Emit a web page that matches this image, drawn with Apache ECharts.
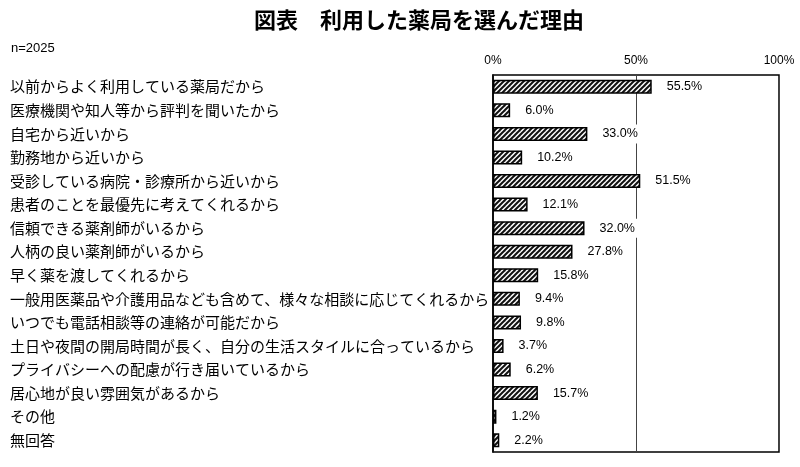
<!DOCTYPE html>
<html><head><meta charset="utf-8">
<script src="https://cdn.jsdelivr.net/npm/echarts@6/dist/echarts.min.js"></script>
<style>html,body{margin:0;padding:0;background:#fff}#c{width:800px;height:467px}</style>
</head><body><div id="c"></div>
<script>
const categories = [
  '以前からよく利用している薬局だから',
  '医療機関や知人等から評判を聞いたから',
  '自宅から近いから',
  '勤務地から近いから',
  '受診している病院・診療所から近いから',
  '患者のことを最優先に考えてくれるから',
  '信頼できる薬剤師がいるから',
  '人柄の良い薬剤師がいるから',
  '早く薬を渡してくれるから',
  '一般用医薬品や介護用品なども含めて、様々な相談に応じてくれるから',
  'いつでも電話相談等の連絡が可能だから',
  '土日や夜間の開局時間が長く、自分の生活スタイルに合っているから',
  'プライバシーへの配慮が行き届いているから',
  '居心地が良い雰囲気があるから',
  'その他',
  '無回答'
];
const values = [55.5, 6.0, 33.0, 10.2, 51.5, 12.1, 32.0, 27.8, 15.8, 9.4, 9.8, 3.7, 6.2, 15.7, 1.2, 2.2];
const xTicks = [0, 50, 100];

const pat = document.createElement('canvas');
pat.width = 5; pat.height = 5;
const g = pat.getContext('2d');
g.fillStyle = '#fff'; g.fillRect(0,0,5,5);
g.strokeStyle = '#111'; g.lineWidth = 2;
[[-5,5,5,-5],[0,5,5,0],[0,10,10,0]].forEach(l=>{g.beginPath();g.moveTo(l[0],l[1]);g.lineTo(l[2],l[3]);g.stroke();});

const chart = echarts.init(document.getElementById('c'));
chart.setOption({
  animation: false,
  title: [
    {text: '図表　利用した薬局を選んだ理由', left: 249, top: 4,
     textStyle: {fontFamily: 'Noto Sans CJK JP', fontSize: 22, fontWeight: 'bold', color: '#000'}},
    {text: 'n=2025', left: 6, top: 37,
     textStyle: {fontFamily: 'Liberation Sans', fontSize: 13, fontWeight: 'normal', color: '#000'}}
  ],
  grid: {left: 493, right: 21, top: 75, bottom: 15, show: true, borderColor: '#000', borderWidth: 1.5, backgroundColor: 'transparent'},
  xAxis: {
    type: 'value', position: 'top', min: xTicks[0], max: xTicks[xTicks.length-1], interval: 50,
    axisLine: {show: false}, axisTick: {show: false},
    splitLine: {show: true, lineStyle: {color: '#444', width: 1}},
    axisLabel: {formatter: '{value}%', fontFamily: 'Liberation Sans', fontSize: 12, color: '#000', margin: 8}
  },
  yAxis: {
    type: 'category', inverse: true, data: categories,
    axisLine: {show: true, lineStyle: {color: '#000', width: 1.5}}, axisTick: {show: false},
    axisLabel: {align: 'left', margin: 483, fontFamily: 'Noto Sans CJK JP', fontSize: 15, color: '#000'}
  },
  series: [{
    type: 'bar', data: values, barWidth: 14,
    itemStyle: {color: {image: pat, repeat: 'repeat'}, borderColor: '#000', borderWidth: 1.5},
    label: {show: true, position: 'right', distance: 11, formatter: p => p.value.toFixed(1) + '%',
      fontFamily: 'Liberation Sans', fontSize: 12.5, color: '#000', backgroundColor: '#fff', padding: [3, 4]}
  }]
});
</script></body></html>
